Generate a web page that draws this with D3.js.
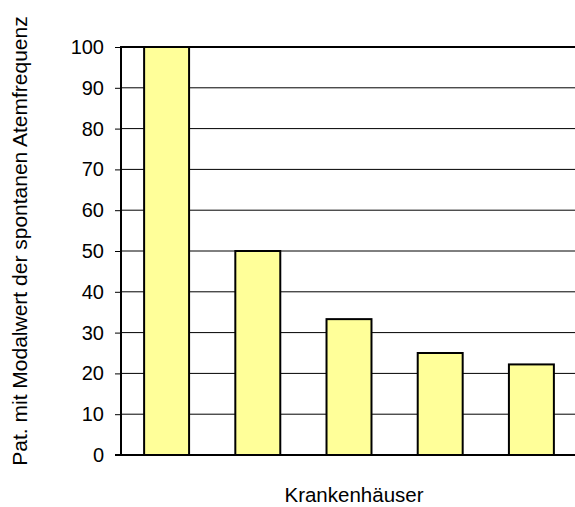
<!DOCTYPE html>
<html>
<head>
<meta charset="utf-8">
<script src="https://cdn.jsdelivr.net/npm/d3@7"></script>
<style>
  html, body { margin: 0; padding: 0; background: #fff; }
  svg { display: block; }
  text { font-family: "Liberation Sans", Arial, sans-serif; fill: #000; }
</style>
</head>
<body>
<svg id="chart" width="575" height="507"></svg>
<script>
// Hospitals and the share of patients at the modal spontaneous breathing rate
const categories = ["K1", "K2", "K3", "K4", "K5"];
const values = [100, 50, 33.3, 25, 22.2];
const yTicks = [0, 10, 20, 30, 40, 50, 60, 70, 80, 90, 100];
const yTitle = "Pat. mit Modalwert der spontanen Atemfrequenz";
const xTitle = "Krankenhäuser";

const svg = d3.select("#chart");
const m = { left: 121, right: 577, top: 47, bottom: 455 };

const x = d3.scaleBand().domain(categories).range([m.left, m.right]).paddingInner(0.507).paddingOuter(0.2535);
const y = d3.scaleLinear().domain([0, 100]).range([m.bottom, m.top]);

// horizontal grid lines
svg.append("g")
  .selectAll("line")
  .data(yTicks.filter(t => t > 0 && t < 100))
  .join("line")
  .attr("x1", m.left).attr("x2", m.right)
  .attr("y1", d => y(d)).attr("y2", d => y(d))
  .attr("stroke", "#000").attr("stroke-width", 1);

// top border of the plot area
svg.append("line")
  .attr("x1", m.left).attr("x2", m.right)
  .attr("y1", y(100)).attr("y2", y(100))
  .attr("stroke", "#000").attr("stroke-width", 2);

// bars
svg.append("g")
  .selectAll("rect")
  .data(values)
  .join("rect")
  .attr("x", (d, i) => x(categories[i]))
  .attr("width", x.bandwidth())
  .attr("y", d => y(d))
  .attr("height", d => y(0) - y(d))
  .attr("fill", "#FFFF99")
  .attr("stroke", "#000")
  .attr("stroke-width", 2);

// y axis
const yAxis = d3.axisLeft(y).tickValues(yTicks).tickSize(6).tickPadding(11);
const ga = svg.append("g").attr("transform", `translate(${m.left},0)`).call(yAxis);
ga.select(".domain").remove();
ga.selectAll(".tick line").attr("stroke", "#000").attr("stroke-width", 1);
ga.selectAll(".tick text").attr("font-size", 20).style("font-family", "Liberation Sans, Arial, sans-serif");

svg.append("line")
  .attr("x1", m.left).attr("x2", m.left)
  .attr("y1", m.top - 1).attr("y2", m.bottom + 1)
  .attr("stroke", "#000").attr("stroke-width", 2);

// x axis baseline
svg.append("line")
  .attr("x1", m.left - 6).attr("x2", m.right)
  .attr("y1", y(0)).attr("y2", y(0))
  .attr("stroke", "#000").attr("stroke-width", 2);

// titles
svg.append("text")
  .attr("transform", "translate(27,241) rotate(-90)")
  .attr("text-anchor", "middle")
  .attr("font-size", 21)
  .text(yTitle);

svg.append("text")
  .attr("x", 354).attr("y", 502)
  .attr("text-anchor", "middle")
  .attr("font-size", 20.5)
  .text(xTitle);
</script>
</body>
</html>
